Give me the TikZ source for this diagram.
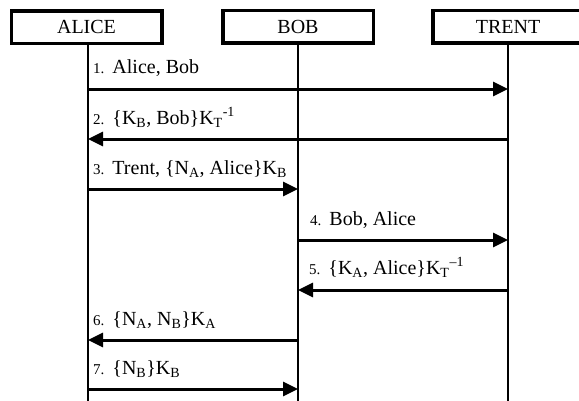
\documentclass[tikz,border=0pt]{standalone}
\usepackage{fontspec}
\setmainfont{Liberation Serif}
\usetikzlibrary{arrows.meta}

% step number in front of a message, set smaller than the message text
\newcommand\stepnum[1]{{\fontsize{15}{18}\selectfont #1.}\hspace{8pt}}

\begin{document}
\begin{tikzpicture}[x=1pt,y=-1pt,
  actor/.style={draw, line width=3.5pt, minimum width=150.5pt, minimum height=32.5pt,
                inner sep=0pt, font=\fontsize{20}{24}\selectfont},
  lifeline/.style={line width=1.2pt},
  msg/.style={line width=3pt, -{Triangle[length=15pt,width=14pt]}},
  msglabel/.style={anchor=base west, inner sep=0pt, font=\fontsize{20}{24}\selectfont}]
\useasboundingbox (0,0) rectangle (579,400);
\clip (0,0) rectangle (579,400);

% participants
\node[actor] (alice) at (86.5,27) {ALICE};
\node[actor] (bob)   at (298,26.5) {BOB};
\node[actor] (trent) at (508,26.5) {TRENT};

% lower ends of the lifelines
\coordinate (aliceend) at (88,402);
\coordinate (bobend)   at (298,402);
\coordinate (trentend) at (508,402);
\draw[lifeline] (alice.south -| aliceend) -- (aliceend);
\draw[lifeline] (bob.south) -- (bobend);
\draw[lifeline] (trent.south) -- (trentend);

% message rows
\coordinate (r1) at (0,89);
\coordinate (r2) at (0,139);
\coordinate (r3) at (0,189);
\coordinate (r4) at (0,240);
\coordinate (r5) at (0,290);
\coordinate (r6) at (0,340);
\coordinate (r7) at (0,389);

\draw[msg] (aliceend |- r1) -- (trentend |- r1);
\draw[msg] (trentend |- r2) -- (aliceend |- r2);
\draw[msg] (aliceend |- r3) -- (bobend |- r3);
\draw[msg] (bobend |- r4) -- (trentend |- r4);
\draw[msg] (trentend |- r5) -- (bobend |- r5);
\draw[msg] (bobend |- r6) -- (aliceend |- r6);
\draw[msg] (aliceend |- r7) -- (bobend |- r7);

% message texts
\node[msglabel] (l1) at (93,73) {\stepnum{1}Alice, Bob};
\node[msglabel] (l2) at (93,124) {\stepnum{2}\{K\textsubscript{B}, Bob\}K\textsubscript{T}\textsuperscript{-1}};
\node[msglabel] (l3) at (93,174) {\stepnum{3}Trent, \{N\textsubscript{A}, Alice\}K\textsubscript{B}};
\node[msglabel] (l4) at (310,225) {\stepnum{4}Bob, Alice};
\node[msglabel] (l5) at (309,274) {\stepnum{5}\{K\textsubscript{A}, Alice\}K\textsubscript{T}\textsuperscript{\textendash1}};
\node[msglabel] (l6) at (93,325) {\stepnum{6}\{N\textsubscript{A}, N\textsubscript{B}\}K\textsubscript{A}};
\node[msglabel] (l7) at (93,374) {\stepnum{7}\{N\textsubscript{B}\}K\textsubscript{B}};
\end{tikzpicture}
\end{document}
